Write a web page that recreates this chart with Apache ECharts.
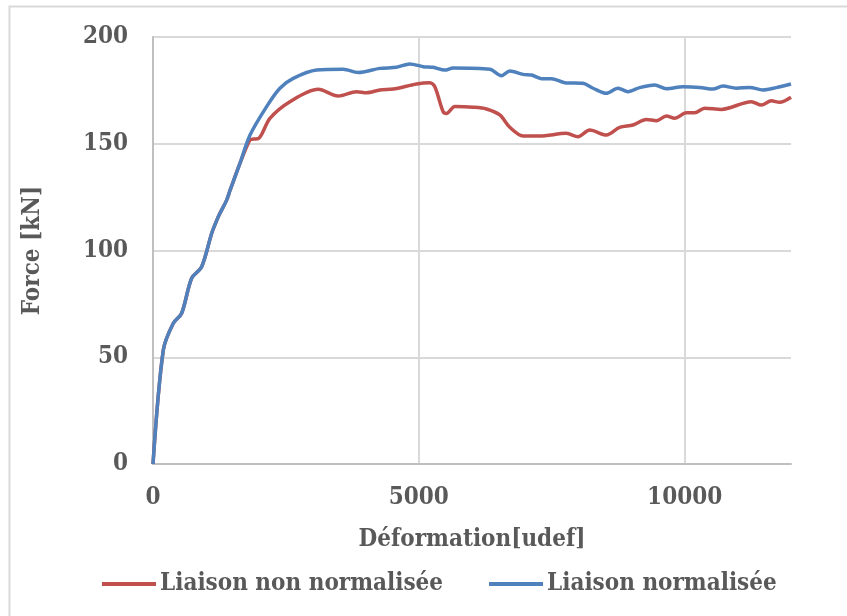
<!DOCTYPE html>
<html lang="fr">
<head>
    <meta charset="UTF-8">
    <title>Force - Déformation</title>
    <script src="https://cdn.jsdelivr.net/npm/echarts@6/dist/echarts.min.js"></script>
    <style>
        html, body { margin: 0; padding: 0; background: #fff; }
        #chart { width: 847px; height: 616px; }
    </style>
</head>
<body>
<div id="chart"></div>
<script>
    // courbe liaison normalisée
    var defNorm = [0, 194, 382, 539, 727, 915, 1103, 1197, 1259, 1385, 1447, 1635, 1823, 2137, 2387, 2638, 3077, 3577, 3860, 4267, 4580, 4831, 5081, 5269, 5489, 5645, 6335, 6554, 6711, 6961, 7118, 7306, 7494, 7744, 8089, 8277, 8528, 8746, 8934, 9154, 9436, 9656, 9968, 10282, 10532, 10720, 10972, 11222, 11472, 11723, 12000];
    var forceNorm = [0, 53.4, 65.9, 70.6, 87, 92.4, 108, 114, 117.4, 123.6, 128, 140.8, 154, 167.4, 176, 180.6, 184.5, 184.9, 183.4, 185.3, 185.8, 187.4, 186.1, 185.8, 184.5, 185.5, 184.9, 181.9, 184.1, 182.5, 182.2, 180.5, 180.5, 178.6, 178.3, 176, 173.6, 176, 174.4, 176.3, 177.5, 175.8, 176.7, 176.4, 175.6, 177, 176, 176.4, 175.2, 176.3, 178];

    // courbe liaison non normalisée
    var defNonNorm = [0, 194, 382, 539, 727, 915, 1103, 1197, 1259, 1385, 1447, 1635, 1823, 1886, 1980, 2199, 2575, 3107, 3483, 3828, 4016, 4267, 4517, 4956, 5207, 5301, 5457, 5520, 5677, 6021, 6272, 6523, 6711, 6961, 7274, 7775, 7994, 8214, 8528, 8778, 9028, 9280, 9468, 9656, 9812, 10032, 10188, 10376, 10690, 11254, 11442, 11630, 11786, 12000];
    var forceNonNorm = [0, 53.4, 65.9, 70.6, 87, 92.4, 108, 114, 117.4, 123.6, 128, 140.8, 151.8, 152.2, 152.4, 161.9, 169.7, 175.5, 172.4, 174.4, 173.9, 175.2, 175.6, 178, 178.6, 176.7, 165, 164.2, 167.4, 167.1, 166.3, 163.5, 157.7, 153.6, 153.6, 154.9, 153.3, 156.4, 154.1, 157.7, 158.8, 161.4, 160.8, 163, 161.9, 164.5, 164.5, 166.6, 166.1, 169.7, 168.1, 170.1, 169.4, 171.8];

    var seriesNames = ['Liaison non normalisée', 'Liaison normalisée'];

    function pairs(xs, ys) {
        var out = [];
        for (var i = 0; i < xs.length; i++) {
            out.push([xs[i], ys[i]]);
        }
        return out;
    }

    var txt = { fontFamily: 'DejaVu Serif Condensed', fontWeight: 'bold', color: '#595959', fontSize: 24 };

    var myChart = echarts.init(document.getElementById('chart'));
    var option = {
        animation: false,
        graphic: [{
            type: 'rect',
            silent: true,
            shape: { x: 9.5, y: 6.5, width: 900, height: 700 },
            style: { fill: 'none', stroke: '#d9d9d9', lineWidth: 2 }
        }],
        grid: { left: 153, right: 56, top: 37, bottom: 152 },
        legend: {
            top: 567,
            left: 97,
            itemWidth: 54,
            itemHeight: 4,
            itemGap: 46,
            icon: 'rect',
            textStyle: Object.assign({}, txt, { padding: [0, 0, 0, -1] }),
            data: seriesNames
        },
        xAxis: {
            type: 'value',
            min: 0,
            max: 12000,
            interval: 5000,
            name: 'Déformation[udef]',
            nameLocation: 'middle',
            nameGap: 64,
            nameTextStyle: txt,
            axisLine: { show: true, lineStyle: { color: '#bfbfbf', width: 2 } },
            axisTick: { show: false },
            axisLabel: { margin: 22, showMaxLabel: false, formatter: function (v) { return String(v); }, fontFamily: txt.fontFamily, fontWeight: 'bold', color: txt.color, fontSize: txt.fontSize },
            splitLine: { show: true, showMaxLine: false, lineStyle: { color: '#d9d9d9', width: 2 } }
        },
        yAxis: {
            type: 'value',
            min: 0,
            max: 200,
            interval: 50,
            name: 'Force [kN]',
            nameLocation: 'middle',
            nameGap: 108,
            nameTextStyle: txt,
            axisLine: { show: true, lineStyle: { color: '#bfbfbf', width: 2 } },
            axisTick: { show: false },
            axisLabel: { margin: 25, fontFamily: txt.fontFamily, fontWeight: 'bold', color: txt.color, fontSize: txt.fontSize },
            splitLine: { show: true, lineStyle: { color: '#d9d9d9', width: 2 } }
        },
        series: [
            {
                name: seriesNames[0],
                type: 'line',
                smooth: 0.3,
                showSymbol: false,
                lineStyle: { color: '#C0504D', width: 3.5 },
                itemStyle: { color: '#C0504D' },
                data: pairs(defNonNorm, forceNonNorm)
            },
            {
                name: seriesNames[1],
                type: 'line',
                smooth: 0.3,
                showSymbol: false,
                lineStyle: { color: '#4F81BD', width: 3.5 },
                itemStyle: { color: '#4F81BD' },
                data: pairs(defNorm, forceNorm)
            }
        ]
    };
    myChart.setOption(option);
</script>
</body>
</html>
